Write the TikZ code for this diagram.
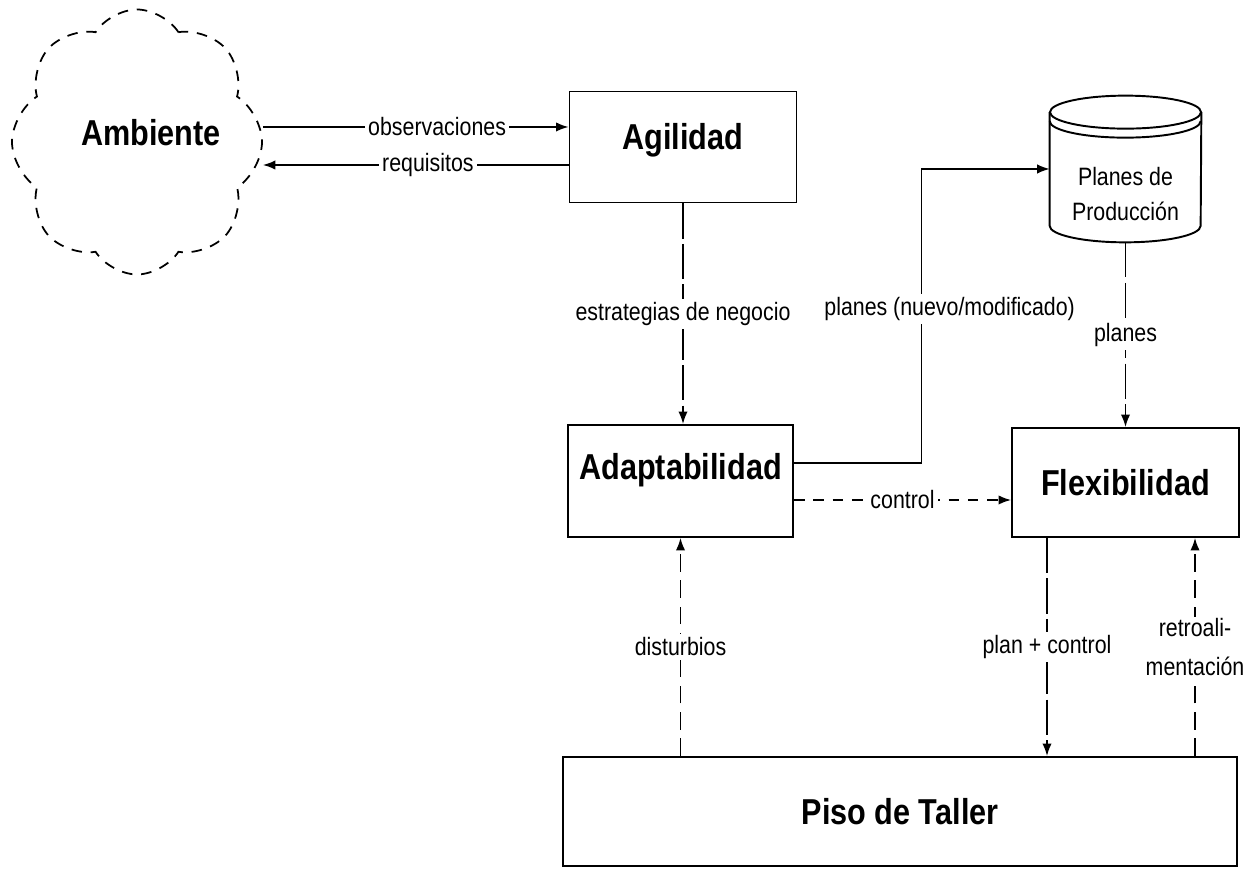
\documentclass[tikz,border=0pt]{standalone}
\usepackage{fontspec}
\setmainfont[FakeStretch=0.85]{Liberation Sans}
\usepackage{tikz}
\usetikzlibrary{positioning, shapes}
\usetikzlibrary{arrows.meta}

\begin{document}
\begin{tikzpicture}
        \tikzset{edge/.style = {-{Latex[length=2.5mm]}, line width=0.9pt}}
        \tikzset{box/.style = {draw, line width=1.1pt, align=center, font=\fontsize{20.5}{22}\selectfont\bfseries}}
        \tikzset{lbl/.style = {fill=white, inner sep=2pt, font=\fontsize{14.3}{22}\selectfont}}
        \tikzset{dsh/.style = {dash pattern=on 6pt off 5pt}}
        \tikzset{longdsh/.style = {dash pattern=on 20pt off 3pt}}
        \tikzset{middsh/.style = {dash pattern=on 10pt off 5pt}}
        \useasboundingbox (0,0) rectangle (24.9,17.38);

        % ambiente
        \node[cloud, cloud puffs=8, cloud puff arc=115, aspect=0.95, minimum width=5cm, minimum height=5.3cm, draw, line width=1pt, dsh] (amb) at (2.74, 14.54) {};
        \node[font=\fontsize{20.5}{22}\selectfont\bfseries] (ambt) at (3.02, 14.72) {Ambiente};

        % boxes
        \node[box, minimum width=4.54cm, minimum height=2.22cm] (ag) at (13.66, 14.44) {\raisebox{4pt}[\height][\depth]{Agilidad}};
        \node[box, minimum width=4.5cm, minimum height=2.24cm] (ad) at (13.61, 7.76) {\raisebox{6pt}[\height][\depth]{Adaptabilidad}};
        \node[box, minimum width=4.54cm, minimum height=2.18cm] (fx) at (22.51, 7.73) {Flexibilidad};
        \node[box, minimum width=13.48cm, minimum height=2.18cm] (ps) at (18.0, 1.15) {Piso de Taller};

        % planes de produccion
        \node[minimum width=3.02cm, minimum height=2.92cm] (pp) at (22.51, 14.0) {};
        \node[align=center, font=\fontsize{14.3}{20}\selectfont] (ppt) at ([yshift=-0.5cm]pp.center) {Planes de\\Producción};
        \draw[line width=1.1pt] ([yshift=-0.33cm]pp.north west) -- ([yshift=0.33cm]pp.south west)
            arc[start angle=180, end angle=360, x radius=1.51cm, y radius=0.33cm] -- ([yshift=-0.33cm]pp.north east);
        \draw[line width=1.1pt] ([yshift=-0.33cm]pp.north) ellipse[x radius=1.51cm, y radius=0.33cm];
        \draw[line width=1.1pt] ([yshift=-0.51cm]pp.north west) arc[start angle=180, end angle=360, x radius=1.51cm, y radius=0.33cm];

        % ambiente <-> agilidad
        \draw[edge] ([yshift=0.3cm]amb.east) -- ([yshift=0.3cm]amb.east -| ag.west) node[lbl, pos=0.57] {observaciones};
        \draw[edge] ([yshift=-0.36cm]ag.west) -- ([yshift=-0.36cm]ag.west -| amb.east) node[lbl, pos=0.46] {requisitos};

        % agilidad -> adaptabilidad
        \draw[edge, longdsh] (ag.south) -- (ag.south |- ad.north) node[lbl, midway] {estrategias de negocio};

        % adaptabilidad -> planes, flexibilidad
        \draw[edge] ([yshift=0.36cm]ad.east) -| node[lbl, pos=0.762, xshift=0.56cm] {planes (nuevo/modificado)}
            ([xshift=-2.56cm]pp.west) -- (pp.west);
        \draw[edge, dsh] ([yshift=-0.38cm]ad.east) -- ([yshift=-0.38cm]ad.east -| fx.west) node[lbl, midway] {control};
        \draw[edge, longdsh] (pp.south) -- (pp.south |- fx.north) node[lbl, midway] {planes};

        % piso de taller
        \draw[edge, middsh] (ad.south |- ps.north) -- (ad.south) node[lbl, midway] {disturbios};
        \draw[edge, longdsh] ([xshift=-1.57cm]fx.south) -- ([xshift=-1.57cm]fx.south |- ps.north) node[lbl, midway] {plan + control};
        \draw[edge, middsh] ([xshift=1.39cm]fx.south |- ps.north) -- ([xshift=1.39cm]fx.south)
            node[lbl, midway, align=center, inner sep=1pt] {retroali-\\mentación};

\end{tikzpicture}
\end{document}
